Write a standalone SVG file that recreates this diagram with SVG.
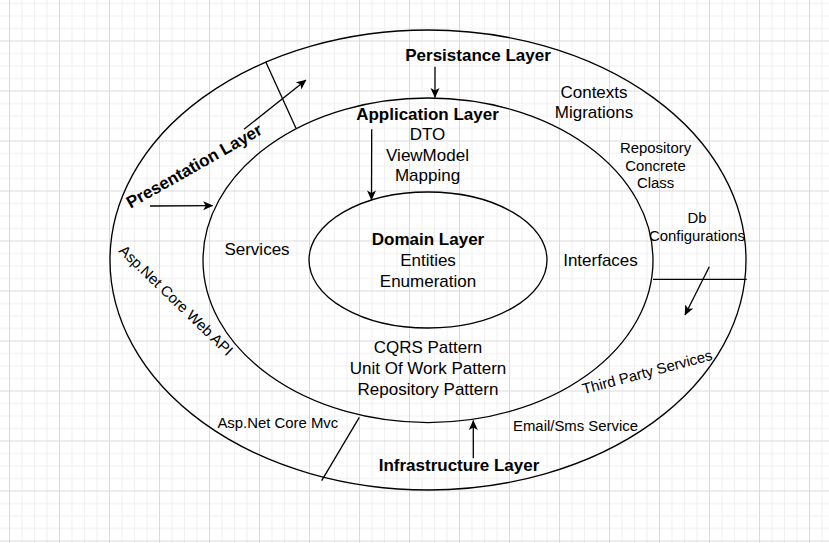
<svg xmlns="http://www.w3.org/2000/svg" width="829" height="543" viewBox="0 0 829 543">
<defs>
  <pattern id="grid" patternUnits="userSpaceOnUse" x="9" y="40.5" width="50" height="50">
    <rect x="0" y="0" width="50" height="50" fill="#ffffff"/>
    <g fill="#f0f0f0">
      <rect x="12.5" y="0" width="1" height="50"/>
      <rect x="25" y="0" width="1" height="50"/>
      <rect x="37.5" y="0" width="1" height="50"/>
      <rect x="0" y="12.5" width="50" height="1"/>
      <rect x="0" y="25" width="50" height="1"/>
      <rect x="0" y="37.5" width="50" height="1"/>
    </g>
    <g fill="#dadada">
      <rect x="0" y="0" width="1" height="50"/>
      <rect x="0" y="0" width="50" height="1"/>
    </g>
  </pattern>
  <marker id="arrow" markerUnits="userSpaceOnUse" viewBox="0 0 10 10" markerWidth="10" markerHeight="10" refX="9.5" refY="5" orient="auto">
    <path d="M0,0.5 L10,5 L0,9.5 L2.5,5 Z" fill="#000"/>
  </marker>
  <style>
    .shape { fill: none; stroke: #000; stroke-width: 1.3; }
    .conn { fill: none; stroke: #000; stroke-width: 1.3; }
    .arr { marker-end: url(#arrow); }
    text { font-family: "Liberation Sans", Arial, sans-serif; fill: #000; }
    .big { font-size: 17px; text-anchor: middle; }
    .bold { font-weight: bold; }
    .small { font-size: 14.9px; text-anchor: middle; }
  </style>
</defs>
<rect width="829" height="543" fill="url(#grid)"/>

<g id="outer-ring">
  <ellipse class="shape" cx="428" cy="260" rx="318" ry="230"/>
</g>
<g id="middle-ring">
  <ellipse class="shape" cx="428" cy="260.3" rx="225" ry="162.3"/>
</g>
<g id="domain-layer">
  <ellipse class="shape" cx="428" cy="260" rx="119" ry="68"/>
  <text class="big bold" x="428" y="245">Domain Layer</text>
  <text class="big" x="428" y="266">Entities</text>
  <text class="big" x="428" y="286.5">Enumeration</text>
</g>

<g id="connectors">
  <line class="conn" x1="265.7" y1="61.7" x2="296" y2="128.3"/>
  <line class="conn" x1="653" y1="279.3" x2="746.7" y2="279.3"/>
  <line class="conn" x1="359.3" y1="417.3" x2="321.7" y2="480.7"/>
  <line class="conn arr" x1="244" y1="129.3" x2="306" y2="80"/>
  <line class="conn arr" x1="150" y1="206" x2="212.7" y2="205.7"/>
  <line class="conn arr" x1="435" y1="66.7" x2="435" y2="97.5"/>
  <line class="conn arr" x1="371.7" y1="129.3" x2="371.5" y2="200"/>
  <line class="conn arr" x1="709.3" y1="266.7" x2="685" y2="315"/>
  <line class="conn arr" x1="473.3" y1="458.3" x2="473.3" y2="420.5"/>
</g>

<g id="persistance-layer">
  <text class="big bold" x="478" y="60.7">Persistance Layer</text>
  <text class="big" x="594" y="97.7">Contexts</text>
  <text class="big" x="594" y="118.3">Migrations</text>
  <text class="small" x="655.5" y="153.3">Repository</text>
  <text class="small" x="655.5" y="170.7">Concrete</text>
  <text class="small" x="655.5" y="188.3">Class</text>
  <text class="small" x="697" y="223.3">Db</text>
  <text class="small" x="697" y="240.7">Configurations</text>
</g>

<g id="application-layer">
  <text class="big bold" x="427.5" y="120">Application Layer</text>
  <text class="big" x="427.5" y="140.4">DTO</text>
  <text class="big" x="427.5" y="160.8">ViewModel</text>
  <text class="big" x="427.5" y="181.2">Mapping</text>
  <text class="big" x="257" y="254.5">Services</text>
  <text class="big" x="600.5" y="265.7">Interfaces</text>
  <text class="big" x="428" y="353.3">CQRS Pattern</text>
  <text class="big" x="428" y="374.3">Unit Of Work Pattern</text>
  <text class="big" x="428" y="395">Repository Pattern</text>
</g>

<g id="presentation-layer">
  <text class="big bold" transform="translate(197 171) rotate(-29.5)" x="0" y="0">Presentation Layer</text>
  <text class="small" transform="translate(172.5 304) rotate(44)" x="0" y="0">Asp.Net Core Web API</text>
  <text class="small" x="277.8" y="427.7">Asp.Net Core Mvc</text>
</g>

<g id="infrastructure-layer">
  <text class="big bold" x="459" y="471">Infrastructure Layer</text>
  <text class="small" x="575.5" y="430.7">Email/Sms Service</text>
  <text class="small" transform="translate(648.5 377) rotate(-15)" x="0" y="0">Third Party Services</text>
</g>
</svg>
